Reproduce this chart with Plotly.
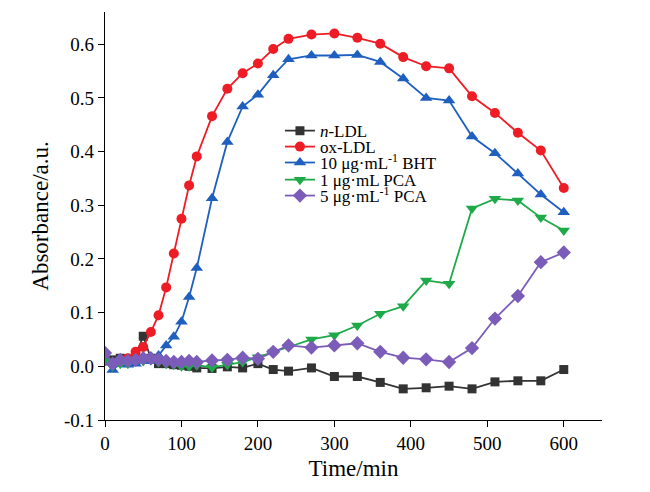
import plotly.graph_objects as go

time_min = [0, 10, 20, 30, 40, 50, 60, 70, 80, 90, 100, 110, 120, 140, 160, 180, 200,
            220, 240, 270, 300, 330, 360, 390, 420, 450, 480, 510, 540, 570, 600]

n_ldl = [0.010, 0.012, 0.015, 0.012, 0.020, 0.056, 0.015, 0.005, 0.005, 0.003, 0.002, 0.000,
         -0.003, -0.004, -0.001, -0.003, 0.005, -0.006, -0.009, -0.003, -0.019, -0.019,
         -0.030, -0.042, -0.040, -0.037, -0.042, -0.029, -0.027, -0.027, -0.006]

ox_ldl = [0.015, 0.005, 0.010, 0.015, 0.027, 0.036, 0.064, 0.095, 0.147, 0.210, 0.275, 0.337,
          0.391, 0.466, 0.517, 0.546, 0.564, 0.591, 0.610, 0.618, 0.620, 0.612, 0.601,
          0.576, 0.559, 0.555, 0.503, 0.472, 0.435, 0.402, 0.332]

bht_10 = [0.010, -0.007, 0.005, 0.003, 0.005, 0.010, 0.010, 0.020, 0.039, 0.055, 0.083, 0.129,
          0.183, 0.313, 0.418, 0.484, 0.506, 0.542, 0.572, 0.579, 0.579, 0.580, 0.567,
          0.536, 0.500, 0.495, 0.428, 0.397, 0.359, 0.320, 0.287]

pca_1 = [0.010, 0.000, 0.005, 0.005, 0.010, 0.010, 0.012, 0.008, 0.005, 0.003, 0.000, 0.000,
         0.002, -0.002, 0.003, 0.008, 0.017, 0.026, 0.036, 0.050, 0.058, 0.076, 0.098,
         0.112, 0.160, 0.154, 0.294, 0.312, 0.309, 0.277, 0.253]

pca_5 = [0.025, 0.005, 0.012, 0.010, 0.012, 0.015, 0.015, 0.013, 0.010, 0.008, 0.008, 0.010,
         0.008, 0.011, 0.012, 0.016, 0.014, 0.027, 0.039, 0.035, 0.039, 0.043, 0.027,
         0.016, 0.013, 0.008, 0.034, 0.089, 0.131, 0.194, 0.212]

series_names = ["<i>n</i>-LDL", "ox-LDL", "10 μg·mL<sup>-1</sup> BHT",
                "1 μg·mL PCA", "5 μg·mL<sup>-1</sup> PCA"]
x_ticks = [0, 100, 200, 300, 400, 500, 600]
y_ticks = [-0.1, 0.0, 0.1, 0.2, 0.3, 0.4, 0.5, 0.6]

styles = [
    ("#333333", "square", 9),
    ("#ee1c25", "circle", 10),
    ("#1f5fbf", "triangle-up", 11),
    ("#1faa4a", "triangle-down", 11),
    ("#7b5cb8", "diamond", 11),
]

font_family = "Liberation Serif, Times New Roman, serif"
legend_ids = ["legend", "legend2", "legend3", "legend4", "legend5"]
legend_y = [0.708, 0.669, 0.630, 0.588, 0.549]

fig = go.Figure()
for name, ys, (col, sym, sz), lid in zip(series_names, [n_ldl, ox_ldl, bht_10, pca_1, pca_5],
                                         styles, legend_ids):
    fig.add_trace(go.Scatter(
        x=time_min, y=ys, name=name, mode="lines+markers", legend=lid,
        line=dict(color=col, width=1.8),
        marker=dict(color=col, symbol=sym, size=sz, line=dict(width=0)),
    ))

legend_common = dict(x=0.352, xanchor="left", yanchor="middle", bgcolor="rgba(0,0,0,0)",
                     font=dict(family=font_family, size=17, color="black"),
                     itemwidth=30, borderwidth=0)
layout_legends = {lid: dict(y=ly, **legend_common) for lid, ly in zip(legend_ids, legend_y)}

fig.update_layout(
    width=650, height=492,
    margin=dict(l=97, r=56, t=4, b=80),
    paper_bgcolor="white", plot_bgcolor="white",
    font=dict(family=font_family, size=19, color="black"),
    showlegend=True,
    xaxis=dict(
        range=[0, 650], tickvals=x_ticks, ticktext=[str(v) for v in x_ticks],
        showgrid=False, zeroline=False, showline=True, linecolor="black", linewidth=1.3,
        ticks="outside", ticklen=6, tickcolor="black", tickwidth=1.3,
        title=dict(text="Time/min", standoff=6),
    ),
    yaxis=dict(
        range=[-0.1, 0.66], tickvals=y_ticks, ticktext=[f"{v:.1f}" for v in y_ticks],
        showgrid=False, zeroline=False, showline=True, linecolor="black", linewidth=1.3,
        ticks="outside", ticklen=6, tickcolor="black", tickwidth=1.3,
        title=dict(text="Absorbance/a.u.", standoff=8),
    ),
    **layout_legends,
)

fig.write_html("out.html")
